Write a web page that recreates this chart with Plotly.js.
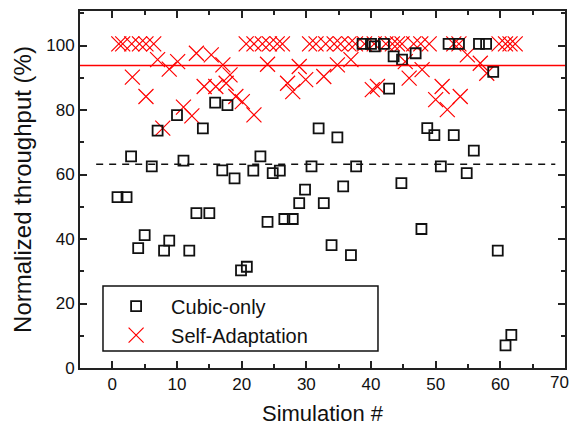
<!DOCTYPE html>
<html>
<head>
<meta charset="utf-8">
<script src="https://cdn.plot.ly/plotly-3.0.1.min.js"></script>
<style>html,body{margin:0;padding:0;background:#fff;}#chart{width:571px;height:426px;}</style>
</head>
<body>
<div id="chart"></div>
<script>
// Cubic-only throughput per simulation
const cubicX = [0.8,2.2,2.9,4.0,5.0,6.1,7.0,8.0,8.8,10.0,11.0,11.9,13.0,14.0,15.0,15.9,17.0,17.8,18.9,19.9,20.8,21.8,22.9,24.0,24.8,25.9,26.6,27.9,28.9,29.8,30.8,31.9,32.7,33.9,34.8,35.7,36.9,37.7,38.7,40.0,40.6,42.0,42.8,43.5,44.7,44.8,46.9,47.8,48.7,49.8,50.8,52.0,52.8,53.6,54.8,55.9,56.7,57.8,58.9,59.6,60.8,61.7];
const cubicY = [53,53,65.6,37.2,41.2,62.5,73.6,36.4,39.5,78.4,64.3,36.4,48,74.3,48,82.3,61.3,81.5,58.8,30.3,31.4,61.2,65.6,45.3,60.4,61.2,46.2,46.2,51.1,55.3,62.5,74.3,51.1,38.1,71.5,56.3,35,62.5,100.5,100.5,99.7,100.5,86.6,96.6,57.3,95.6,97.6,43.1,74.4,72.2,62.5,100.5,72.2,100.5,60.4,67.4,100.5,100.5,91.8,36.4,7.0,10.3];
// Self-Adaptation throughput per simulation
const selfX = [1,1.6,3,3.1,4.2,5.2,5.2,6.4,7.0,7.8,8.8,10.1,11,12.3,13,14.2,15.3,16,17.1,17.6,18.2,19.1,20.1,20.7,21.9,21.9,23.2,24,24.3,25.5,26.3,27.1,27.9,28.9,29.9,30.5,31.5,32.7,33,34.3,34.8,35.3,36.6,36.9,37.6,39,40.2,40.5,41,42.3,43.3,44.1,44.8,45.3,45.9,46.6,47.7,47.9,49,50,51,51.8,52.8,53.6,53.8,54.9,56.9,57.9,59.8,60.8,61.5,62.3];
const selfY = [100.5,100.5,100.5,90.2,100.5,100.5,84.2,100.5,95.6,74.4,92.7,95,80.9,78.2,97.6,87.3,97.1,87.3,94,88.3,90.9,84.2,82.6,100.5,100.5,78.5,100.5,94.2,100.5,100.5,100.5,88.3,85.7,93.5,89.4,100.5,100.5,90.4,100.5,100.5,94,100.5,100.5,95.6,100.5,100.5,86.3,100.5,87.3,100.5,100.5,100.5,100.5,95,89.9,100.5,100.5,92.5,100.5,83.2,87.3,80.1,100.5,100.5,84.2,97.1,94.5,91.4,100.5,100.5,100.5,100.5];
// Averages
const cubicMean = 63.2;
const selfMean = 93.8;
const cubicMeanSpan = [-2.5, 68.5];
const selfMeanSpan = [-5, 70];
const xTicks = [0,10,20,30,40,50,60,70];
const xTickText = ['0','10','20','30','40','50','60','70'];
const yTicks = [0,20,40,60,80,100];

const font = 'Liberation Sans, Arial, sans-serif';

const traces = [
  {x: selfX, y: selfY, type: 'scatter', mode: 'markers', name: 'Self-Adaptation', legendrank: 2,
   marker: {symbol: 'x-thin-open', size: 15, color: 'rgb(255,0,0)', line: {color: 'rgb(255,0,0)', width: 1.2}}},
  {x: cubicX, y: cubicY, type: 'scatter', mode: 'markers', name: 'Cubic-only', legendrank: 1,
   marker: {symbol: 'square-open', size: 10, color: '#111', line: {color: '#111', width: 1.8}}},
  {x: selfMeanSpan, y: [selfMean, selfMean], type: 'scatter', mode: 'lines', showlegend: false,
   line: {color: 'rgb(255,0,0)', width: 1.6}},
  {x: cubicMeanSpan, y: [cubicMean, cubicMean], type: 'scatter', mode: 'lines', showlegend: false,
   line: {color: '#111', width: 1.6, dash: '7px,6px'}}
];

const axisCommon = {
  showgrid: false, zeroline: false, showline: true, linecolor: '#222', linewidth: 2,
  mirror: 'ticks', ticks: 'inside', ticklen: 7, tickwidth: 2, tickcolor: '#222',
  tickfont: {family: font, size: 17, color: '#111'}
};

// last x tick label sits at the right paper edge: draw it right-aligned so it stays whole
const lastIdx = xTicks.length - 1;
const shownXText = xTickText.map((t, i) => i === lastIdx ? '' : t);

const layout = {
  width: 571, height: 426,
  margin: {l: 80, r: 6, t: 11, b: 58},
  paper_bgcolor: '#fff', plot_bgcolor: '#fff',
  showlegend: true,
  legend: {x: 0.0435, y: 0.228, xanchor: 'left', yanchor: 'top', bgcolor: 'rgba(0,0,0,0)', borderwidth: 0,
    font: {family: font, size: 20, color: '#111'}, itemwidth: 60, tracegroupgap: 13},
  xaxis: Object.assign({}, axisCommon, {
    range: [-5, 70], tickvals: xTicks, ticktext: shownXText,
    minor: {dtick: 5, tick0: 0, ticks: 'inside', ticklen: 4, tickwidth: 2, tickcolor: '#222'},
    title: {text: 'Simulation #', font: {family: font, size: 22, color: '#111'}, standoff: 14}
  }),
  yaxis: Object.assign({}, axisCommon, {
    range: [0, 110.7], tickvals: yTicks, ticktext: yTicks.map(String),
    minor: {dtick: 10, tick0: 0, ticks: 'inside', ticklen: 4, tickwidth: 2, tickcolor: '#222'},
    title: {text: 'Normalized throughput (%)', font: {family: font, size: 24, color: '#111'}, standoff: 8}
  }),
  annotations: [
    {text: xTickText[lastIdx], xref: 'paper', yref: 'paper', x: 1.012, y: 0, xanchor: 'right', yanchor: 'top',
     yshift: -3, showarrow: false, font: {family: font, size: 17, color: '#111'}}
  ],
  shapes: [
    {type: 'rect', xref: 'paper', yref: 'paper', x0: 0.0474, x1: 0.6144, y0: 0.0476, y1: 0.2297,
     line: {color: '#111', width: 1.5}, fillcolor: 'rgba(0,0,0,0)'}
  ]
};

Plotly.newPlot('chart', traces, layout, {displayModeBar: false, staticPlot: true});
</script>
</body>
</html>
